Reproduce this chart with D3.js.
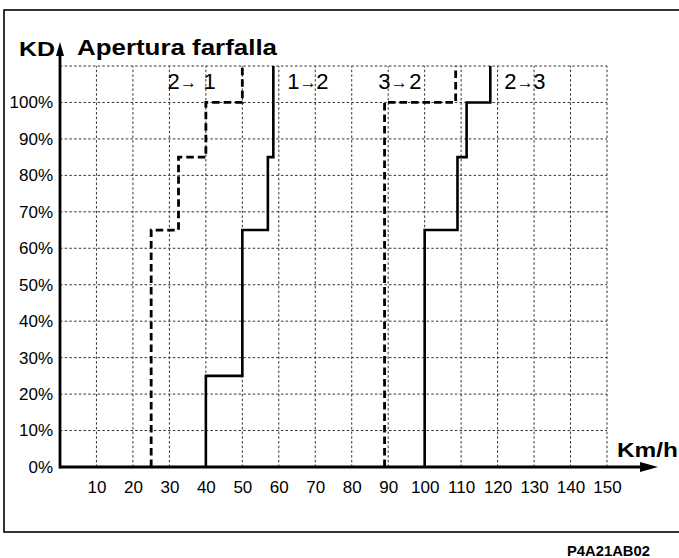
<!DOCTYPE html>
<html>
<head>
<meta charset="utf-8">
<script src="https://cdn.jsdelivr.net/npm/d3@7"></script>
<style>
  html, body { margin: 0; padding: 0; background: #fff; }
  svg { display: block; font-family: "Liberation Sans", Arial, Helvetica, sans-serif; }
</style>
</head>
<body>
<svg id="chart" width="679" height="558"></svg>
<script>
// Speed axis ticks (km/h) and throttle opening ticks (%)
const speedTicks = [10, 20, 30, 40, 50, 60, 70, 80, 90, 100, 110, 120, 130, 140, 150];
const openingTicks = [0, 10, 20, 30, 40, 50, 60, 70, 80, 90, 100];
const openingGrid = [10, 20, 30, 40, 50, 60, 70, 80, 90, 100, 110];

// Shift curves: [speed km/h, throttle opening %]
const shift21 = [[25, 0], [25, 65], [32.5, 65], [32.5, 85], [40, 85], [40, 100], [50, 100], [50, 110]];
const shift12 = [[40, 0], [40, 25], [50, 25], [50, 65], [57, 65], [57, 85], [58.5, 85], [58.5, 110]];
const shift32 = [[89, 0], [89, 100], [108.5, 100], [108.5, 110]];
const shift23 = [[100, 0], [100, 65], [109, 65], [109, 85], [111.5, 85], [111.5, 100], [118, 100], [118, 110]];

// Gear change labels: from gear, to gear, speed where the label starts
const labelFrom = ["2", "1", "3", "2"];
const labelTo = ["1", "2", "2", "3"];
const labelSpeed = [29.5, 62.3, 87.3, 121.8];

const svg = d3.select("#chart");

const x = d3.scaleLinear().domain([0, 150]).range([60, 607]);
const y = d3.scaleLinear().domain([0, 110]).range([467, 66]);

// Outer frame
svg.append("rect")
  .attr("x", 4).attr("y", 10).attr("width", 720).attr("height", 522)
  .attr("fill", "none").attr("stroke", "#000").attr("stroke-width", 1.6);

// Grid
const grid = svg.append("g").attr("class", "grid")
  .attr("stroke", "#333").attr("stroke-width", 1).attr("stroke-dasharray", "2.5,2.2");
grid.selectAll("line.h").data(openingGrid).join("line")
  .attr("class", "h")
  .attr("x1", x(0)).attr("x2", x(150))
  .attr("y1", d => y(d)).attr("y2", d => y(d));
grid.selectAll("line.v").data(speedTicks).join("line")
  .attr("class", "v")
  .attr("x1", d => x(d)).attr("x2", d => x(d))
  .attr("y1", y(0)).attr("y2", y(110));

// Shift curves
const line = d3.line().x(d => x(d[0])).y(d => y(d[1])).curve(d3.curveLinear);
const curves = [
  { pts: shift21, dashed: true },
  { pts: shift12, dashed: false },
  { pts: shift32, dashed: true },
  { pts: shift23, dashed: false }
];
svg.append("g").selectAll("path").data(curves).join("path")
  .attr("d", d => line(d.pts))
  .attr("fill", "none")
  .attr("stroke", "#000")
  .attr("stroke-width", d => d.dashed ? 2.8 : 2.6)
  .attr("stroke-linejoin", "miter")
  .attr("stroke-dasharray", d => d.dashed ? "7.5,4" : null);

// Tick labels through d3 axes
const xAxis = svg.append("g")
  .attr("transform", `translate(0,${y(0)})`)
  .call(d3.axisBottom(x).tickValues(speedTicks).tickSize(0).tickPadding(14));
const yAxis = svg.append("g")
  .attr("transform", `translate(${x(0) - 7},0)`)
  .call(d3.axisLeft(y).tickValues(openingTicks).tickFormat(d => d + "%").tickSize(0).tickPadding(0));
[xAxis, yAxis].forEach(a => {
  a.select(".domain").remove();
  a.selectAll("text").attr("font-size", 17).attr("fill", "#000")
    .attr("font-family", '"Liberation Sans", Arial, sans-serif');
});

// Axis lines with arrow heads
const axes = svg.append("g").attr("stroke", "#000").attr("fill", "#000");
axes.append("line")
  .attr("x1", x(0)).attr("x2", 645).attr("y1", y(0)).attr("y2", y(0))
  .attr("stroke-width", 3);
axes.append("path")
  .attr("d", `M640,${y(0) - 5} L658,${y(0)} L640,${y(0) + 5} Z`).attr("stroke", "none");
axes.append("line")
  .attr("x1", x(0)).attr("x2", x(0)).attr("y1", y(0) + 1.5).attr("y2", 52)
  .attr("stroke-width", 2.8);
axes.append("path")
  .attr("d", `M${x(0) - 4},56 L${x(0)},42 L${x(0) + 4},56 Z`).attr("stroke", "none");

// Titles
svg.append("text").text("KD")
  .attr("x", 19).attr("y", 56)
  .attr("font-size", 20).attr("font-weight", "bold")
  .attr("textLength", 36).attr("lengthAdjust", "spacingAndGlyphs");
svg.append("text").text("Apertura farfalla")
  .attr("x", 77).attr("y", 55)
  .attr("font-size", 22).attr("font-weight", "bold")
  .attr("textLength", 200).attr("lengthAdjust", "spacingAndGlyphs");
svg.append("text").text("Km/h")
  .attr("x", 617).attr("y", 457)
  .attr("font-size", 21).attr("font-weight", "bold")
  .attr("textLength", 61).attr("lengthAdjust", "spacingAndGlyphs");
svg.append("text").text("P4A21AB02")
  .attr("x", 567).attr("y", 556)
  .attr("font-size", 14).attr("font-weight", "bold")
  .attr("textLength", 83).attr("lengthAdjust", "spacingAndGlyphs");

// Gear change labels
const labels = svg.append("g");
const toOffset = [36, 29, 31, 29];
labelSpeed.forEach((s, i) => {
  const x0 = x(s);
  const t = labels.append("text").attr("y", 89).attr("font-size", 22).attr("fill", "#000");
  t.append("tspan").attr("x", x0).text(labelFrom[i]);
  t.append("tspan").attr("x", x0 + 12.5).attr("dy", -1)
    .attr("font-size", 17).text("→");
  t.append("tspan").attr("x", x0 + toOffset[i]).attr("dy", 1).text(labelTo[i]);
});
</script>
</body>
</html>
